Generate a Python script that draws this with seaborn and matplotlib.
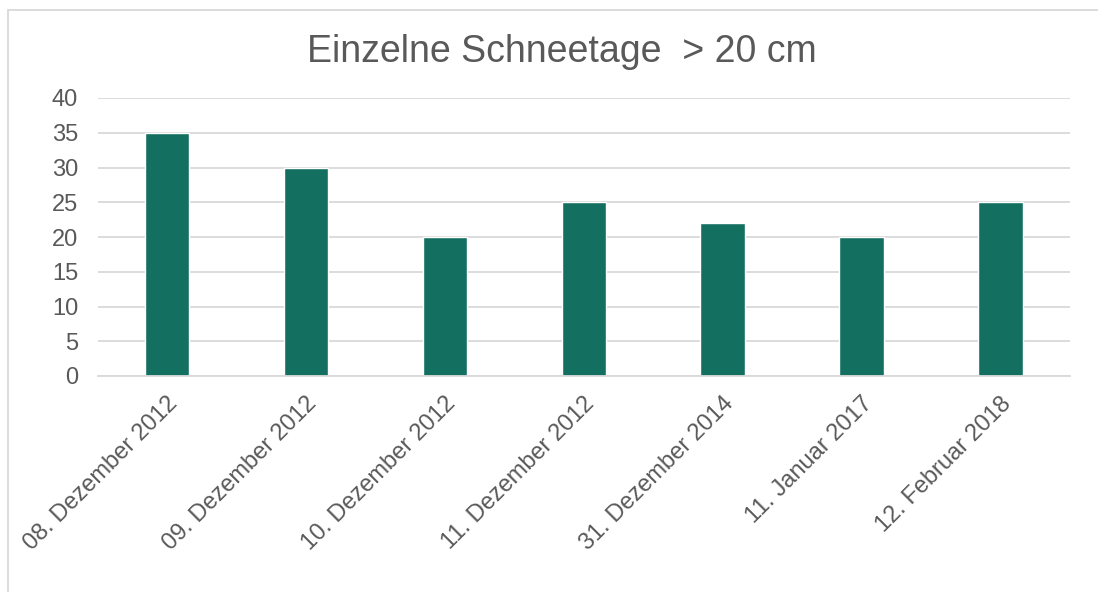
import pandas as pd
import matplotlib.pyplot as plt
import seaborn as sns
from matplotlib.patches import Rectangle

# --- Daten ---
dates = ["08. Dezember 2012", "09. Dezember 2012", "10. Dezember 2012",
         "11. Dezember 2012", "31. Dezember 2014", "11. Januar 2017",
         "12. Februar 2018"]
snow_cm = [35, 30, 20, 25, 22, 20, 25]
y_ticks = [0, 5, 10, 15, 20, 25, 30, 35, 40]

df = pd.DataFrame({"Datum": dates, "Schnee": snow_cm})

sns.set_theme(style="white")
plt.rcParams['font.family'] = ['Liberation Sans', 'DejaVu Sans']

fig = plt.figure(figsize=(10.98, 5.92), dpi=100)
ax = fig.add_axes([97.5 / 1098, 1 - 376 / 592, (1070 - 97.5) / 1098, (376 - 98) / 592])

sns.barplot(data=df, x="Datum", y="Schnee", color="#137060", width=0.32,
            saturation=1, ax=ax)

ax.set_ylim(0, 40)
ax.set_yticks(y_ticks)
ax.set_xlim(-0.5, len(dates) - 0.5)
ax.yaxis.grid(True, color="#d9d9d9", linewidth=1.3)
ax.set_axisbelow(True)
for s in ["top", "right", "left"]:
    ax.spines[s].set_visible(False)
ax.spines["bottom"].set_color("#d9d9d9")
ax.spines["bottom"].set_linewidth(1.3)
ax.set_xlabel("")
ax.set_ylabel("")
ax.tick_params(axis="both", length=0, colors="#595959", labelsize=17)
ax.tick_params(axis="y", pad=14)
ax.tick_params(axis="x", pad=12)
plt.setp(ax.get_xticklabels(), rotation=45, ha="right", rotation_mode="anchor")

fig.text(0.512, 1 - 52 / 592, "Einzelne Schneetage  > 20 cm", ha="center",
         va="center", fontsize=27, color="#595959")

# Rahmen des Diagramms
fig.patches.append(Rectangle((8 / 1098, -0.1), 1.2, 1 - 10 / 592 + 0.1,
                             transform=fig.transFigure, fill=False,
                             edgecolor="#d9d9d9", linewidth=1.3))

fig.savefig("out.png", dpi=100)
